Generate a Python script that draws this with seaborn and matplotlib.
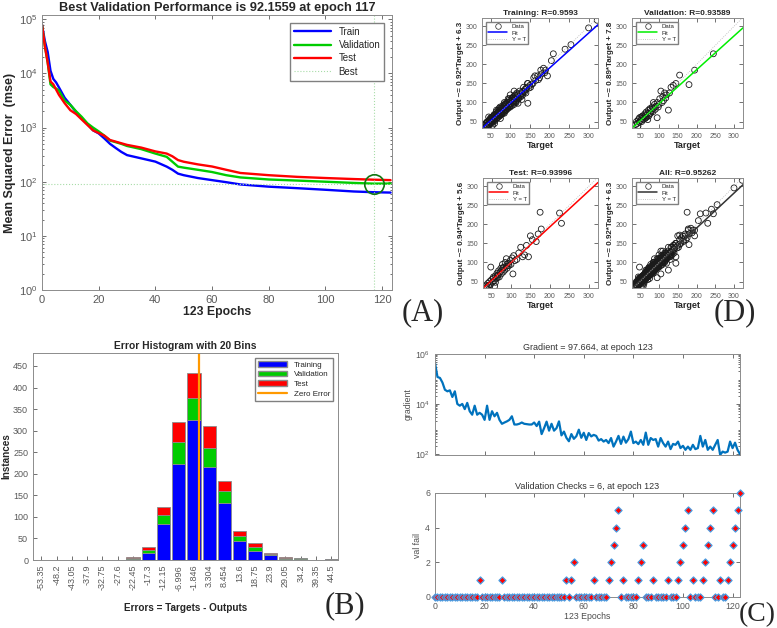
import matplotlib
matplotlib.use("Agg")
import matplotlib.pyplot as plt
import seaborn as sns
from matplotlib.lines import Line2D
from matplotlib.patches import Patch

# ---------------- panel A : performance ----------------
perf_epochs = [0, 1, 2, 3, 4, 5, 6, 8, 10, 12, 14, 16, 18, 20, 22, 24, 26, 28, 30, 35,
               40, 44, 46, 48, 50, 55, 60, 65, 70, 80, 90, 100, 110, 117, 123]
perf_train = [79000, 40000, 25000, 11200, 7900, 6800, 5500, 3550, 2630, 1950, 1480, 1170,
              890, 780, 630, 500, 420, 355, 310, 270, 235, 190, 166, 141, 132, 117, 107,
              98, 89, 81, 76, 71, 66, 64, 63]
perf_valid = [79000, 32000, 16000, 6300, 5600, 5250, 4800, 3160, 2630, 2000, 1580, 1200,
              1000, 850, 710, 575, 537, 500, 457, 400, 331, 288, 234, 190, 182, 166, 151,
              132, 120, 110, 105, 100, 95, 92.16, 92.5]
perf_test = [79000, 32000, 16000, 7100, 6300, 5000, 4000, 2820, 2090, 1780, 1410, 1120,
             890, 794, 708, 589, 550, 513, 479, 427, 363, 331, 295, 251, 234, 209, 191,
             166, 145, 132, 123, 117, 112, 109, 107]
best_epoch = 117
best_perf = 92.1559

# ---------------- panel B : error histogram ----------------
bin_centers = [-53.35, -48.2, -43.05, -37.9, -32.75, -27.6, -22.45, -17.3, -12.15, -6.996,
               -1.846, 3.304, 8.454, 13.6, 18.75, 23.9, 29.05, 34.2, 39.35, 44.5]
bin_labels = ["-53.35", "-48.2", "-43.05", "-37.9", "-32.75", "-27.6", "-22.45", "-17.3",
              "-12.15", "-6.996", "-1.846", "3.304", "8.454", "13.6", "18.75", "23.9",
              "29.05", "34.2", "39.35", "44.5"]
hist_train = [1, 0, 0, 1, 0, 0, 2, 17, 84, 223, 324, 215, 133, 44, 22, 12, 3, 3, 1, 2]
hist_valid = [0, 0, 0, 0, 0, 0, 2, 6, 20, 50, 52, 45, 28, 12, 7, 2, 1, 2, 0, 0]
hist_test = [0, 0, 0, 0, 0, 0, 2, 6, 18, 47, 58, 50, 23, 12, 10, 2, 2, 0, 0, 0]

# ---------------- panel C : training state ----------------
grad = [4.4e5, 1.2e5, 1.1e5, 7.2e4, 3.7e4, 3.2e4, 3.5e4, 1.9e4, 3.2e4, 1.0e4,
        8.5e3, 1.0e4, 6.2e3, 1.1e4, 5.1e3, 3.7e3, 8.5e3, 3.7e3, 4.4e3, 3.7e3,
        2.3e3, 8.5e3, 2.3e3, 5.1e3, 3.2e3, 4.4e3, 2.3e3, 1.6e3, 1.8e3, 2.0e3,
        2.3e3, 3.2e3, 1.5e3, 1.5e3, 1.6e3, 1.8e3, 1.6e3, 1.55e3, 1.5e3, 1.5e3,
        1.8e3, 1.3e3, 1.95e3, 620, 1.07e3, 1.95e3, 850, 1.6e3, 850, 1.07e3,
        2.0e3, 550, 780, 440, 320, 620, 400, 510, 930, 440,
        700, 360, 680, 500, 575, 525, 340, 390, 310, 360,
        270, 430, 195, 310, 525, 250, 490, 280, 390, 780,
        270, 310, 245, 360, 230, 710, 230, 430, 360, 390,
        195, 430, 270, 195, 310, 155, 250, 230, 310, 170,
        210, 145, 195, 145, 230, 155, 170, 525, 195, 360,
        145, 195, 145, 230, 360, 91, 123, 112, 123, 310,
        170, 280, 145, 97.664]
val_fail = [0, 0, 0, 0, 0, 0, 0, 0, 0, 0,
            0, 0, 0, 0, 0, 0, 0, 0, 1, 0,
            0, 0, 0, 0, 0, 0, 0, 1, 0, 0,
            0, 0, 0, 0, 0, 0, 0, 0, 0, 0,
            0, 0, 0, 0, 0, 0, 0, 0, 0, 0,
            0, 0, 0, 1, 0, 1, 2, 0, 0, 0,
            0, 0, 0, 0, 1, 0, 0, 0, 0, 0,
            1, 2, 3, 4, 5, 0, 1, 0, 0, 0,
            0, 0, 1, 2, 3, 0, 0, 0, 1, 0,
            0, 0, 0, 0, 1, 0, 0, 0, 1, 2,
            3, 4, 5, 0, 1, 0, 0, 0, 1, 2,
            3, 4, 5, 0, 0, 1, 0, 0, 1, 2,
            3, 4, 5, 6]
epochs = list(range(len(grad)))

# ---------------- panel D : regression ----------------
train_t = [35, 38, 40, 42, 44, 45, 47, 48, 50, 50, 52, 53, 55, 55, 57, 58, 60, 60, 62, 63,
           64, 65, 66, 67, 68, 70, 70, 72, 73, 74, 75, 76, 77, 78, 80, 80, 82, 83, 84, 85,
           86, 87, 88, 90, 90, 92, 93, 94, 95, 96, 97, 98, 100, 100, 102, 104, 105, 107, 108, 110,
           110, 112, 114, 115, 117, 118, 120, 122, 125, 128, 130, 132, 135, 138, 140, 142, 145, 145, 148, 150,
           155, 160, 165, 170, 175, 180, 185, 190, 195, 205, 210, 240, 255, 300, 322, 60, 45, 75, 100, 120,
           130, 110, 85, 65, 55, 95, 40, 52, 68, 78, 88, 58, 72, 105, 115,
           36, 39, 41, 43, 46, 49, 51, 53, 54, 56, 59, 61, 63, 64, 66, 67, 69, 71, 72, 74,
           76, 78, 79, 81, 83, 85, 86, 88, 89, 91, 93, 95, 96, 98, 99, 101, 103, 106, 109, 111,
           113, 116, 119, 121, 124, 127, 131, 134, 137, 141, 144, 152, 158, 163, 172, 178, 188]
train_o = [40, 45, 38, 50, 42, 47, 55, 44, 52, 60, 48, 56, 50, 62, 58, 52, 65, 55, 60, 70,
           57, 64, 72, 60, 66, 75, 62, 68, 80, 65, 72, 85, 70, 76, 82, 70, 78, 90, 74, 82,
           95, 78, 86, 92, 80, 88, 100, 84, 90, 105, 88, 95, 102, 88, 98, 110, 92, 100, 115, 105,
           95, 120, 102, 110, 125, 108, 115, 112, 120, 118, 128, 120, 130, 135, 125, 140, 98, 150, 138, 145,
           148, 165, 158, 170, 165, 175, 190, 185, 170, 210, 228, 240, 252, 296, 316, 45, 62, 58, 120, 98,
           108, 130, 100, 80, 40, 110, 48, 58, 72, 70, 95, 66, 85, 112, 100,
           44, 40, 48, 38, 52, 46, 58, 45, 62, 54, 68, 52, 64, 75, 58, 70, 80, 66, 76, 88,
           68, 84, 74, 92, 80, 72, 88, 98, 82, 96, 86, 100, 92, 110, 90, 96, 105, 112, 98, 110,
           118, 105, 122, 110, 130, 115, 125, 140, 128, 135, 150, 140, 150, 170, 160, 185, 178]
valid_t = [38, 40, 42, 45, 47, 48, 50, 52, 54, 55, 57, 58, 60, 62, 63, 65, 66, 68, 70, 72,
           73, 75, 77, 78, 80, 82, 84, 86, 88, 90, 92, 95, 95, 100, 102, 105, 108, 110, 112, 115,
           118, 120, 125, 128, 132, 138, 145, 155, 180, 195, 245, 85, 70, 44, 56, 64, 76, 98]
valid_o = [42, 50, 45, 55, 48, 60, 52, 62, 50, 58, 65, 55, 62, 70, 58, 66, 75, 62, 72, 80,
           65, 70, 82, 72, 78, 88, 76, 85, 95, 82, 90, 60, 100, 95, 110, 130, 100, 115, 105, 125,
           112, 120, 80, 125, 140, 145, 150, 172, 147, 185, 228, 100, 55, 38, 64, 60, 84, 88]
test_t = [35, 38, 40, 42, 45, 47, 48, 50, 52, 55, 57, 58, 60, 62, 64, 65, 67, 68, 70, 72,
          74, 75, 77, 78, 80, 82, 84, 85, 88, 90, 92, 95, 98, 100, 103, 105, 107, 110, 115, 120,
          125, 130, 135, 140, 145, 150, 155, 165, 170, 175, 178, 225, 230, 88, 60, 54, 66, 79, 94]
test_o = [38, 35, 45, 40, 50, 42, 88, 55, 48, 62, 52, 38, 65, 58, 72, 60, 68, 78, 62, 75,
          85, 70, 80, 95, 75, 88, 80, 100, 90, 85, 98, 92, 105, 95, 112, 70, 118, 105, 108, 125,
          140, 115, 120, 145, 115, 170, 160, 155, 175, 232, 188, 230, 203, 110, 48, 58, 66, 86, 96]
reg_titles = ["Training: R=0.9593", "Validation: R=0.93589", "Test: R=0.93996", "All: R=0.95262"]
reg_slopes = [0.92, 0.89, 0.94, 0.92]
reg_intercepts = [6.3, 7.8, 5.6, 6.3]
reg_colors = ["#0000ff", "#00ee00", "#ff0000", "#333333"]

# ---------------- style ----------------
sns.set_style("ticks")
plt.rcParams['font.family'] = ['Liberation Sans', 'DejaVu Sans']
plt.rcParams['mathtext.default'] = 'regular'

fig = plt.figure(figsize=(7.77, 6.28), dpi=100)


def box(l, t, r, b):
    return [l / 777, 1 - b / 628, (r - l) / 777, (b - t) / 628]


def matlab(ax, fs):
    for s in ax.spines.values():
        s.set_color('0.55')
        s.set_linewidth(0.7)
    ax.tick_params(which='both', direction='in', top=True, right=True,
                   labelsize=fs, colors='0.35', width=0.6)
    ax.tick_params(which='major', length=3)
    ax.tick_params(which='minor', length=1.5)


# panel A
axA = fig.add_axes(box(42, 15, 392, 290))
sns.lineplot(x=perf_epochs, y=perf_train, ax=axA, color='#0000ff', lw=1.7)
sns.lineplot(x=perf_epochs, y=perf_valid, ax=axA, color='#00cc00', lw=1.7)
sns.lineplot(x=perf_epochs, y=perf_test, ax=axA, color='#ff0000', lw=1.7)
axA.axhline(best_perf, color='#a8dca8', lw=0.8, ls=':')
axA.axvline(best_epoch, color='#a8dca8', lw=0.8, ls=':')
axA.plot([best_epoch], [best_perf], marker='o', ms=14, mfc='none', mec='#117711', mew=1.2)
axA.set_yscale('log')
axA.set_ylim(1, 1.2e5)
axA.set_xlim(0, 123.5)
axA.set_xticks([0, 20, 40, 60, 80, 100, 120])
matlab(axA, 8)
axA.tick_params(axis='x', which='minor', bottom=False, top=False)
axA.set_title("Best Validation Performance is 92.1559 at epoch 117", fontsize=9.2,
              fontweight='bold', pad=3)
axA.set_ylabel("Mean Squared Error  (mse)", fontsize=9, fontweight='bold', labelpad=2)
axA.set_xlabel("123 Epochs", fontsize=8.8, fontweight='bold', labelpad=1)
legA = [Line2D([], [], color='#0000ff', lw=1.7), Line2D([], [], color='#00cc00', lw=1.7),
        Line2D([], [], color='#ff0000', lw=1.7), Line2D([], [], color='#a8dca8', lw=0.8, ls=':')]
axA.legend(legA, ["Train", "Validation", "Test", "Best"], loc='upper right', fontsize=7,
           fancybox=False, framealpha=1, edgecolor='0.5', handlelength=3.8,
           borderaxespad=0.8, labelspacing=0.35)

# panel D
all_t = train_t + valid_t + test_t
all_o = train_o + valid_o + test_o
reg_data = [(train_t, train_o), (valid_t, valid_o), (test_t, test_o), (all_t, all_o)]
reg_boxes = [(482, 18, 598, 128), (632, 18, 743, 128), (483, 178, 598, 288), (632, 178, 743, 288)]
for i in range(4):
    ax = fig.add_axes(box(*reg_boxes[i]))
    tx, ty = reg_data[i]
    lo, hi = 28, 324
    sns.scatterplot(x=tx, y=ty, ax=ax, s=18, facecolor='none', edgecolor='0.1',
                    linewidth=0.6, marker='o')
    ax.plot([lo, hi], [reg_slopes[i] * lo + reg_intercepts[i], reg_slopes[i] * hi + reg_intercepts[i]],
            color=reg_colors[i], lw=1.1)
    ax.plot([lo, hi], [lo, hi], color='0.7', lw=0.6, ls=':')
    ax.set_xlim(lo, hi)
    ax.set_ylim(33, 322)
    ax.set_xticks([50, 100, 150, 200, 250, 300])
    ax.set_yticks([50, 100, 150, 200, 250, 300])
    matlab(ax, 5)
    ax.set_title(reg_titles[i], fontsize=6, fontweight='bold', pad=2)
    ax.set_xlabel("Target", fontsize=6.5, fontweight='bold', labelpad=1)
    ax.set_ylabel("Output ~= %.2f*Target + %.1f" % (reg_slopes[i], reg_intercepts[i]),
                  fontsize=5.8, fontweight='bold', labelpad=1)
    hnd = [Line2D([], [], ls='', marker='o', mfc='none', mec='0.15', ms=4, mew=0.5),
           Line2D([], [], color=reg_colors[i], lw=1.1),
           Line2D([], [], color='0.7', lw=0.6, ls=':')]
    ax.legend(hnd, ["Data", "Fit", "Y = T"], loc='upper left', fontsize=4.3, fancybox=False,
              framealpha=1, edgecolor='0.5', handlelength=3.2, borderaxespad=0.6,
              labelspacing=0.2, borderpad=0.4)

# panel B
axB = fig.add_axes(box(33, 353, 338, 560))
bw = 4.5
axB.bar(bin_centers, hist_train, width=bw, color='#0000ff', edgecolor='0.55', lw=0.6)
axB.bar(bin_centers, hist_valid, width=bw, bottom=hist_train, color='#00cc00',
        edgecolor='0.55', lw=0.6)
bottom_test = [a + b for a, b in zip(hist_train, hist_valid)]
axB.bar(bin_centers, hist_test, width=bw, bottom=bottom_test, color='#ff0000',
        edgecolor='0.55', lw=0.6)
axB.axvline(0, color='#ff9900', lw=1.6)
axB.set_xlim(-56.2, 46.8)
axB.set_ylim(0, 480)
axB.set_yticks(range(0, 451, 50))
axB.set_xticks(bin_centers)
axB.set_xticklabels(bin_labels, rotation=90)
matlab(axB, 6.5)
axB.tick_params(top=False, right=False)
axB.set_title("Error Histogram with 20 Bins", fontsize=7.4, fontweight='bold', pad=3)
axB.set_ylabel("Instances", fontsize=7.2, fontweight='bold', labelpad=1)
axB.set_xlabel("Errors = Targets - Outputs", fontsize=7.2, fontweight='bold', labelpad=9)
legB = [Patch(fc='#0000ff', ec='0.55'), Patch(fc='#00cc00', ec='0.55'),
        Patch(fc='#ff0000', ec='0.55'), Line2D([], [], color='#ff9900', lw=1.6)]
axB.legend(legB, ["Training", "Validation", "Test", "Zero Error"], loc='upper right',
           fontsize=5.8, fancybox=False, framealpha=1, edgecolor='0.5', handlelength=3.6,
           borderaxespad=0.6, labelspacing=0.25, borderpad=0.4)

# panel C
axG = fig.add_axes(box(435, 354, 740, 455))
sns.lineplot(x=epochs, y=grad, ax=axG, color='#0072bd', lw=1.6)
axG.set_yscale('log')
axG.set_ylim(90, 1e6)
axG.set_yticks([1e2, 1e4, 1e6])
axG.set_xlim(0, 123)
axG.set_xticks([0, 20, 40, 60, 80, 100, 120])
axG.set_xticklabels([])
matlab(axG, 6.3)
axG.tick_params(axis='x', which='minor', bottom=False, top=False)
axG.set_title("Gradient = 97.664, at epoch 123", fontsize=6.5, pad=3, color='0.2')
axG.set_ylabel("gradient", fontsize=6.3, labelpad=2, color='0.3')

axV = fig.add_axes(box(435, 493, 740, 597))
sns.scatterplot(x=epochs, y=val_fail, ax=axV, marker='D', s=13, color='#ff0000',
                edgecolor='#4a9be0', linewidth=0.9, zorder=3, clip_on=False)
axV.set_xlim(0, 123)
axV.set_ylim(0, 6)
axV.set_xticks([0, 20, 40, 60, 80, 100, 120])
axV.set_yticks([0, 2, 4, 6])
matlab(axV, 6.3)
axV.set_title("Validation Checks = 6, at epoch 123", fontsize=6.5, pad=3, color='0.2')
axV.set_ylabel("val fail", fontsize=6.3, labelpad=2, color='0.3')
axV.set_xlabel("123 Epochs", fontsize=6.3, labelpad=1, color='0.3')

# panel letters
serif = ['Liberation Serif', 'DejaVu Serif']
for lab, px, py in [("(A)", 423, 313), ("(D)", 735, 313), ("(B)", 345, 606)]:
    fig.text(px / 777, 1 - py / 628, lab, family=serif, fontsize=22, ha='center', va='center')
fig.text(776 / 777, 1 / 628, "(C)", family=serif, fontsize=20, ha='right', va='bottom')

fig.savefig("out.png", dpi=100)
